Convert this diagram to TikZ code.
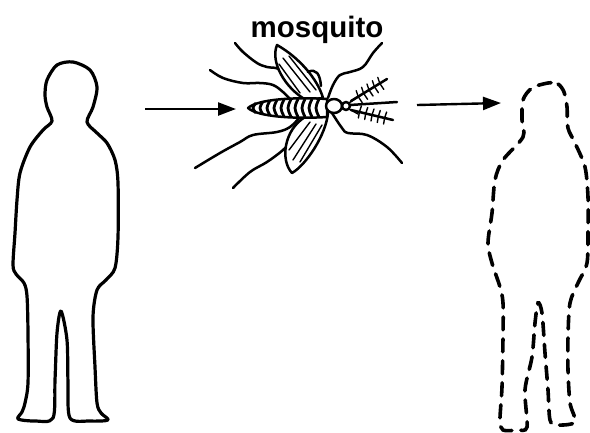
\documentclass[tikz,border=0pt]{standalone}
\usepackage{fontspec}
\setmainfont{Liberation Sans}
\usetikzlibrary{arrows.meta,calc}
\begin{document}
\begin{tikzpicture}[x=1pt,y=-1pt,
  outline/.style={line width=3.2pt, line join=round, line cap=round},
  ghost/.style={line width=3.6pt, dash pattern=on 13pt off 9pt, line cap=round},
  insect/.style={line width=2.5pt, line cap=round, line join=round},
  fine/.style={line width=1.4pt, line cap=round},
  carry/.style={line width=2.4pt, -{Triangle[length=18pt,width=13pt]}}]
\useasboundingbox (0,0) rectangle (590,432);

% healthy person
\draw[outline] plot[smooth cycle, tension=0.5] coordinates {
  (73,62) (90,70) (97,87) (93,107) (87,122) (97,133) (107,143) (115,160)
  (118,183) (118,237) (115,268) (106,280) (97,290) (93,317) (95,367)
  (97,403) (101,413) (108,420) (90,421) (70,418) (68,383) (67,340)
  (61,311) (57,333) (55,380) (53,418) (35,421) (18,419) (22,412) (25,403)
  (28,383) (28,333) (27,296) (24,283) (16,274) (13,265) (15,233) (17,200)
  (20,173) (30,147) (43,130) (52,121) (47,107) (45,95) (47,80) (57,65)};

% person after infection
\draw[ghost] plot[smooth cycle, tension=0.5] coordinates {
  (548,83) (558,84) (564,92) (567,107) (568,128) (575,143) (585,167)
  (588,197) (588,230) (587,263) (578,283) (570,303) (568,337) (568,370)
  (570,403) (575,422) (557,425) (550,420) (548,390) (545,353) (542,313)
  (538,303) (535,323) (532,357) (525,390) (527,427) (517,430) (503,430)
  (500,420) (502,387) (503,337) (503,303) (500,287) (492,263) (488,243)
  (492,213) (495,180) (503,160) (523,137) (522,120) (523,100) (532,88)};

% label
\node[font=\bfseries\fontsize{29.5}{31}\selectfont, anchor=base] (label) at (317,37) {mosquito};

% legs
\draw[insect] plot[smooth, tension=0.6] coordinates {(235,43) (243,52) (257,63) (267,67) (280,70) (292,88)};
\draw[insect] plot[smooth, tension=0.6] coordinates {(210,70) (223,78) (243,83) (260,83) (273,85) (283,92) (292,101)};
\draw[insect] plot[smooth, tension=0.6] coordinates {(382,43) (373,53) (363,67) (350,72) (340,75) (333,85) (328,98)};
\draw[insect] plot[smooth, tension=0.6] coordinates {(195,168) (220,153) (240,142) (253,135) (277,132) (290,127) (300,117)};
\draw[insect] plot[smooth, tension=0.6] coordinates {(233,188) (250,172) (267,162) (283,150) (292,140)};
\draw[insect] plot[smooth, tension=0.6] coordinates {(402,163) (387,147) (367,135) (348,133) (342,128) (332,113)};

% wings
\draw[insect, fill=white] (323,98) .. controls (318,80) and (300,58) .. (277,45)
  .. controls (270,62) and (285,88) .. (306,100) -- cycle;
\draw[insect] (308,72) .. controls (316,68) and (320,74) .. (321,86);
\draw[fine] (283,58) -- (310,92);
\draw[fine] (289,56) -- (316,90);
\draw[fine] (279,64) -- (300,93);
\draw[insect, fill=white] (328,113) .. controls (326,135) and (306,165) .. (292,173)
  .. controls (280,160) and (284,130) .. (305,117) -- cycle;
\draw[fine] (316,124) -- (293,160);
\draw[fine] (322,125) -- (300,162);
\draw[fine] (310,122) -- (289,150);

% abdomen
\draw[insect, fill=white] (248,108) .. controls (258,99) and (295,97) .. (327,99)
  -- (327,117) .. controls (295,119) and (258,117) .. (248,108) -- cycle;
\foreach \x/\h in {256/5, 263/6.5, 270/7.5, 277/8, 284/8.5, 291/8.8, 298/9, 305/9, 312/9, 319/9}
  \draw[line width=2.8pt] (\x,108-\h) .. controls (\x-4,108) .. (\x,108+\h);

% thorax, head, mouthparts
\draw[insect, fill=white] (334,106) ellipse [x radius=8, y radius=7];
\draw[insect, fill=white] (346,106) circle [radius=4];
\draw[insect] (350,105) -- (397,102);
\draw[insect] (351,101) -- (387,79);
\draw[insect] (351,110) -- (393,120);
\foreach \t in {0.2,0.35,0.5,0.65,0.8} {
  \draw[fine] ($(351,101)!\t!(387,79)$) -- ++(4,6);
  \draw[fine] ($(351,101)!\t!(387,79)$) -- ++(-2,-6);
  \draw[fine] ($(351,110)!\t!(393,120)$) -- ++(2,-6);
  \draw[fine] ($(351,110)!\t!(393,120)$) -- ++(-1,6);
}
\draw[fine] (349,103) -- (358,97);
\draw[fine] (349,109) -- (358,114);

% transmission arrows
\coordinate (fromA) at (145,109);
\coordinate (toA) at (236,109);
\coordinate (fromB) at (417,105);
\coordinate (toB) at (501,103);
\draw[carry] (fromA) -- (toA);
\draw[carry] (fromB) -- (toB);
\end{tikzpicture}
\end{document}
